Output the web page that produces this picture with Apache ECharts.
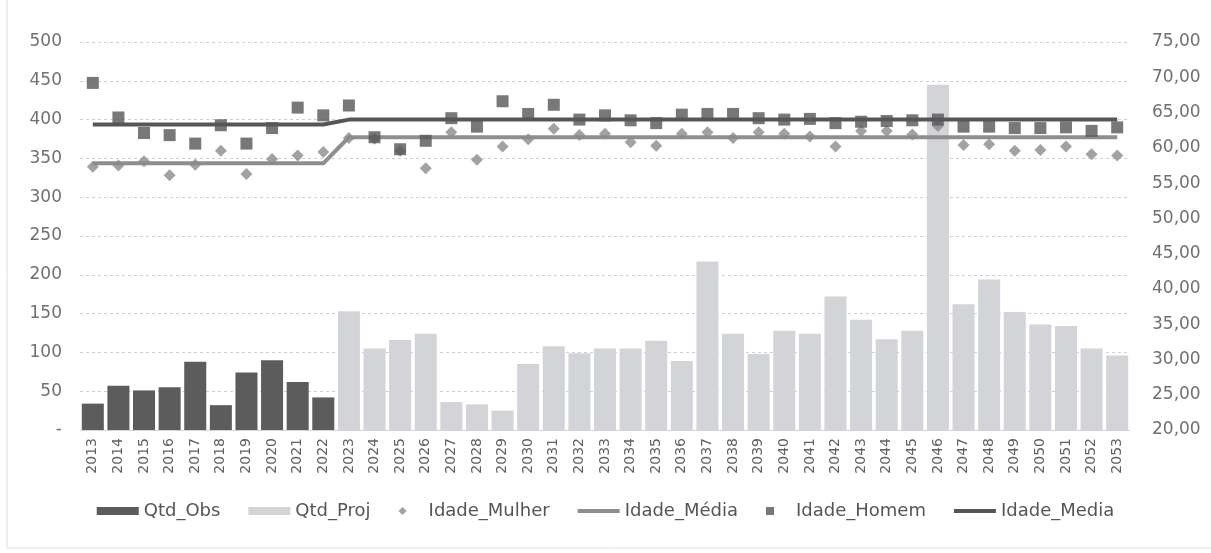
<!DOCTYPE html>
<html>
<head>
<meta charset="utf-8">
<script src="https://cdn.jsdelivr.net/npm/echarts@6/dist/echarts.min.js"></script>
<style>
  html, body { margin: 0; padding: 0; background: #fff; }
  #chart { width: 1211px; height: 553px; }
</style>
</head>
<body>
<div id="chart"></div>
<script>
// anos
const anos = ['2013','2014','2015','2016','2017','2018','2019','2020','2021','2022',
  '2023','2024','2025','2026','2027','2028','2029','2030','2031','2032','2033',
  '2034','2035','2036','2037','2038','2039','2040','2041','2042','2043','2044',
  '2045','2046','2047','2048','2049','2050','2051','2052','2053'];

// quantidades (eixo esquerdo)
const qtdObs = [34, 57, 51, 55, 88, 32, 74, 90, 62, 42,
  null, null, null, null, null, null, null, null, null, null, null,
  null, null, null, null, null, null, null, null, null, null, null,
  null, null, null, null, null, null, null, null, null];
const qtdProj = [null, null, null, null, null, null, null, null, null, null,
  153, 105, 116, 124, 36, 33, 25, 85, 108, 99, 105,
  105, 115, 89, 217, 124, 98, 128, 124, 172, 142, 117,
  128, 445, 162, 194, 152, 136, 134, 105, 96];

// idades (eixo direito)
const idadeMulher = [57.3, 57.5, 58.1, 56.1, 57.6, 59.6, 56.3, 58.4, 58.9, 59.4,
  61.4, 61.3, 59.6, 57.1, 62.2, 58.3, 60.2, 61.2, 62.7, 61.8, 62.0,
  60.8, 60.3, 62.0, 62.2, 61.4, 62.2, 62.0, 61.6, 60.2, 62.4, 62.4,
  61.9, 63.1, 60.4, 60.5, 59.6, 59.7, 60.2, 59.1, 58.9];
const mediaMulher = [57.8, 57.8, 57.8, 57.8, 57.8, 57.8, 57.8, 57.8, 57.8, 57.8,
  61.5, 61.5, 61.5, 61.5, 61.5, 61.5, 61.5, 61.5, 61.5, 61.5, 61.5,
  61.5, 61.5, 61.5, 61.5, 61.5, 61.5, 61.5, 61.5, 61.5, 61.5, 61.5,
  61.5, 61.5, 61.5, 61.5, 61.5, 61.5, 61.5, 61.5, 61.5];
const idadeHomem = [69.2, 64.3, 62.1, 61.8, 60.6, 63.2, 60.6, 62.8, 65.7, 64.6,
  66.0, 61.5, 59.8, 61.0, 64.2, 63.0, 66.6, 64.8, 66.1, 64.0, 64.6,
  63.9, 63.5, 64.7, 64.8, 64.8, 64.2, 64.0, 64.1, 63.5, 63.7, 63.8,
  63.9, 64.0, 63.0, 63.0, 62.8, 62.8, 62.9, 62.4, 62.9];
const mediaHomem = [63.3, 63.3, 63.3, 63.3, 63.3, 63.3, 63.3, 63.3, 63.3, 63.3,
  64.0, 64.0, 64.0, 64.0, 64.0, 64.0, 64.0, 64.0, 64.0, 64.0, 64.0,
  64.0, 64.0, 64.0, 64.0, 64.0, 64.0, 64.0, 64.0, 64.0, 64.0, 64.0,
  64.0, 64.0, 64.0, 64.0, 64.0, 64.0, 64.0, 64.0, 64.0];

const fonte = 'DejaVu Sans';
const chart = echarts.init(document.getElementById('chart'));

// icones da legenda
const icoLosango = 'path://M0,5L5,0L10,5L5,10Z';
const icoQuadrado = 'path://M0,0H10V10H0Z';
const icoLinha = 'path://M0,0H42V4H0Z';

const option = {
  animation: false,
  backgroundColor: '#ffffff',
  textStyle: { fontFamily: fonte },
  graphic: [{
    type: 'rect',
    shape: { x: 7, y: -5, width: 1230, height: 553 },
    style: { fill: 'none', stroke: '#dcdcdc', lineWidth: 1 },
    silent: true
  }],
  grid: { left: 80, right: 81, top: 42, bottom: 123 },
  legend: {
    top: 497,
    left: 'center',
    itemWidth: 42,
    itemHeight: 8,
    itemGap: 28,
    symbolKeepAspect: true,
    textStyle: { fontFamily: fonte, fontSize: 18, color: '#555' },
    data: [
      { name: 'Qtd_Obs', icon: 'rect' },
      { name: 'Qtd_Proj', icon: 'rect' },
      { name: 'Idade_Mulher', icon: icoLosango },
      { name: 'Idade_Média', icon: icoLinha },
      { name: 'Idade_Homem', icon: icoQuadrado },
      { name: 'Idade_Media', icon: icoLinha }
    ]
  },
  xAxis: {
    type: 'category',
    data: anos,
    axisLine: { lineStyle: { color: '#d4d4d4' } },
    axisTick: { show: false },
    axisLabel: {
      rotate: 90,
      interval: 0,
      margin: 8,
      fontFamily: fonte,
      fontSize: 14,
      color: '#606060'
    }
  },
  yAxis: [{
    type: 'value',
    min: 0,
    max: 500,
    interval: 50,
    axisLine: { show: false },
    axisTick: { show: false },
    axisLabel: {
      margin: 18,
      fontFamily: fonte,
      fontSize: 17,
      color: '#707070',
      formatter: v => (v === 0 ? '-' : v)
    },
    splitLine: { lineStyle: { type: [3, 3], color: '#cfcfcf' } }
  }, {
    type: 'value',
    min: 20,
    max: 75,
    interval: 5,
    axisLine: { show: false },
    axisTick: { show: false },
    splitLine: { show: false },
    axisLabel: {
      margin: 22,
      fontFamily: fonte,
      fontSize: 17,
      color: '#707070',
      formatter: v => v.toFixed(2).replace('.', ',')
    }
  }],
  series: [{
    name: 'Qtd_Obs',
    type: 'bar',
    stack: 'qtd',
    barCategoryGap: '14%',
    data: qtdObs,
    itemStyle: { color: '#5c5c5c' }
  }, {
    name: 'Qtd_Proj',
    type: 'bar',
    stack: 'qtd',
    barCategoryGap: '14%',
    data: qtdProj,
    itemStyle: { color: '#d3d4d7' }
  }, {
    name: 'Idade_Mulher',
    type: 'scatter',
    yAxisIndex: 1,
    symbol: 'diamond',
    symbolSize: 12,
    z: 5,
    data: idadeMulher,
    itemStyle: { color: '#8a8a90' }
  }, {
    name: 'Idade_Média',
    type: 'line',
    yAxisIndex: 1,
    symbol: 'none',
    z: 3,
    data: mediaMulher,
    lineStyle: { color: '#8e8e8e', width: 4 },
    itemStyle: { color: '#8e8e8e' }
  }, {
    name: 'Idade_Homem',
    type: 'scatter',
    yAxisIndex: 1,
    symbol: 'rect',
    symbolSize: 12,
    z: 5,
    data: idadeHomem,
    itemStyle: { color: '#565656' }
  }, {
    name: 'Idade_Media',
    type: 'line',
    yAxisIndex: 1,
    symbol: 'none',
    z: 3,
    data: mediaHomem,
    lineStyle: { color: '#565656', width: 4 },
    itemStyle: { color: '#565656' }
  }]
};

chart.setOption(option);
</script>
</body>
</html>
